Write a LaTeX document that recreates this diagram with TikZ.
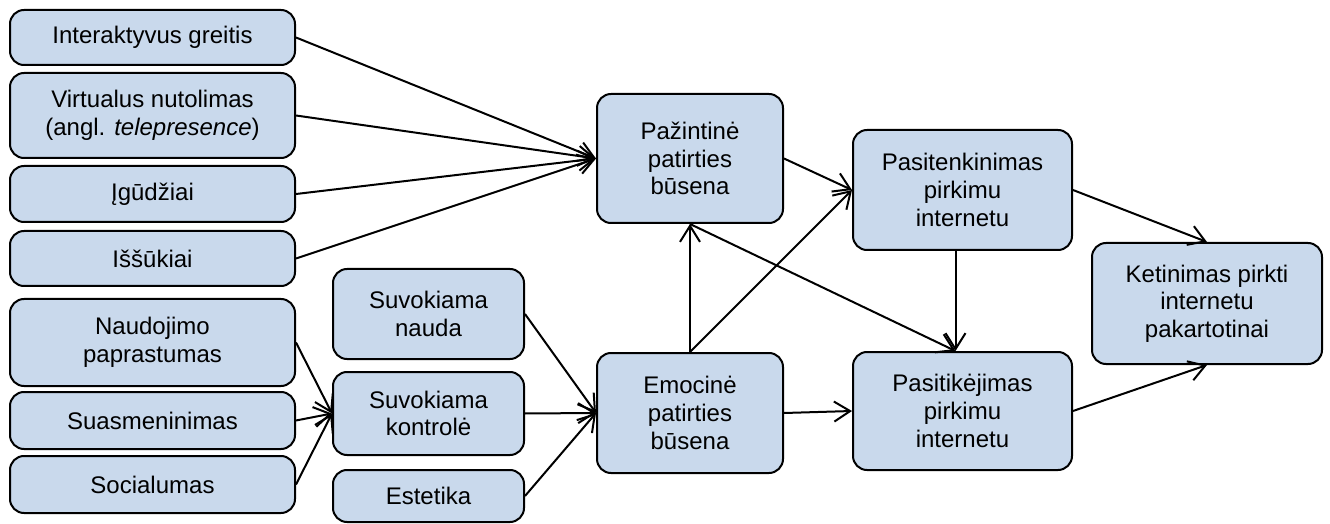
\documentclass[tikz,border=0pt]{standalone}
\usepackage{fontspec}
\setmainfont{Liberation Sans}
\usetikzlibrary{positioning, arrows.meta}
\definecolor{boxblue}{RGB}{201,217,236}
\tikzset{
->, % every connector is an arrow
>={Straight Barb[length=8pt,width=10pt]}, % open arrow heads
box/.style={rectangle, rounded corners=7pt, draw=black, fill=boxblue, align=center, inner sep=2pt, font=\fontsize{12}{13.8}\selectfont}, % every factor box
leftbox/.style={box, minimum width=142.5pt}, % boxes on the left
midbox/.style={box, minimum width=95.5pt}, % boxes in the second column
}

\begin{document}
\begin{tikzpicture}[x=0.5pt, y=-0.5pt, line width=1pt]
  \useasboundingbox (0,0) rectangle (1330,524);

  \node[leftbox, minimum height=27.5pt] (greitis) at (152.5,37.5) {Interaktyvus greitis};
  \node[leftbox, minimum height=42.5pt, below=3pt of greitis] (nutol) {Virtualus nutolimas\\(angl. \textit{telepresence})};
  \node[leftbox, minimum height=28pt, below=3pt of nutol] (igud) {Įgūdžiai};
  \node[leftbox, minimum height=27.5pt, below=3.5pt of igud] (issuk) {Iššūkiai};
  \node[leftbox, minimum height=43.5pt, below=5.5pt of issuk] (paprast) {Naudojimo\\paprastumas};
  \node[leftbox, minimum height=28.5pt, below=2pt of paprast] (suasm) {Suasmeninimas};
  \node[leftbox, minimum height=28.5pt, below=2.5pt of suasm] (social) {Socialumas};

  \node[midbox, minimum height=45pt] (nauda) at (428.5,314) {Suvokiama\\nauda};
  \node[midbox, minimum height=41.5pt, below=5.5pt of nauda] (kontr) {Suvokiama\\kontrolė};
  \node[midbox, minimum height=26pt, below=6.5pt of kontr] (estet) {Estetika};

  \node[box, minimum width=93pt, minimum height=64.5pt] (pazint) at (690,158.5) {Pažintinė\\patirties\\būsena};
  \node[box, minimum width=93pt, minimum height=60pt, below=64pt of pazint] (emoc) {Emocinė\\patirties\\būsena};

  \node[box, minimum width=109.5pt, minimum height=60pt] (paten) at (962.5,190) {Pasitenkinimas\\pirkimu\\internetu};
  \node[box, minimum width=109.5pt, minimum height=59pt, below=50pt of paten] (patik) {Pasitikėjimas\\pirkimu\\internetu};

  \node[box, minimum width=115pt, minimum height=60.5pt] (ketin) at (1207,303.5) {Ketinimas pirkti\\internetu\\pakartotinai};

  \path (greitis.east) edge (pazint.west)
  (nutol.east) edge (pazint.west)
  (igud.east) edge (pazint.west)
  (issuk.east) edge (pazint.west);

  \path (paprast.east) edge (kontr.west)
  (suasm.east) edge (kontr.west)
  (social.east) edge (kontr.west);

  \path (nauda.east) edge (emoc.west)
  (kontr.east) edge (emoc.west)
  (estet.east) edge (emoc.west);

  \path (emoc.north) edge (pazint.south)
  (emoc.north) edge (paten.west)
  (pazint.east) edge (paten.west)
  (pazint.south) edge ([xshift=-3.5pt]patik.north)
  ([xshift=-3.5pt]paten.south) edge ([xshift=-3.5pt]patik.north)
  (emoc.east) edge (patik.west)
  (paten.east) edge (ketin.north)
  (patik.east) edge (ketin.south);

\end{tikzpicture}
\end{document}
